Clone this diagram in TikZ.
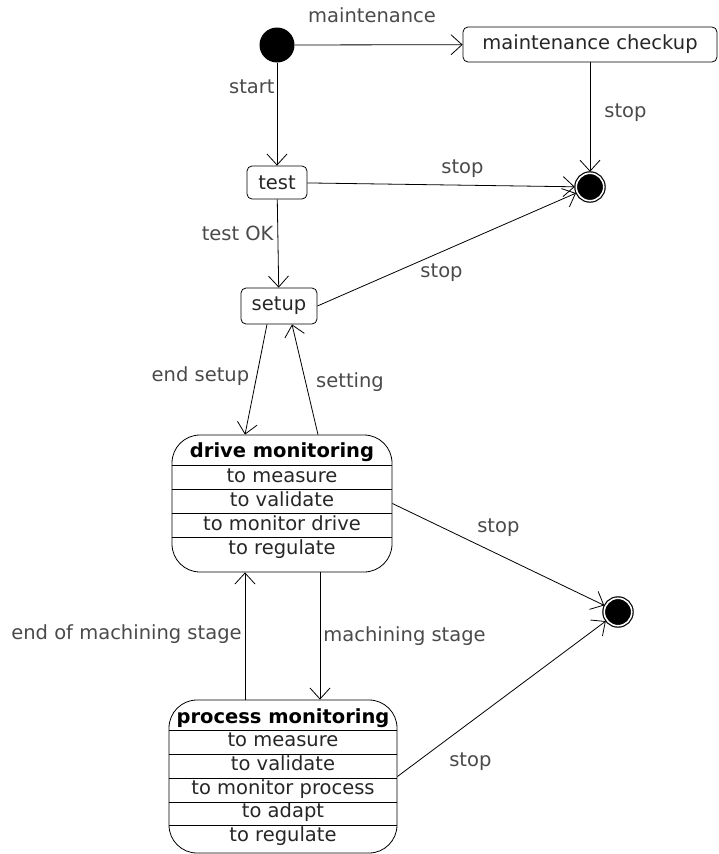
\documentclass[tikz,border=0pt]{standalone}
\usepackage{fontspec}
\setmainfont{DejaVu Sans}
\usetikzlibrary{arrows.meta}
\definecolor{labelgray}{HTML}{4A4A4A}
\definecolor{textgray}{HTML}{262626}
\newcommand{\umlfont}{\fontsize{19.5}{22}\selectfont}

\tikzset{
  state/.style={draw, rounded corners=5pt, inner sep=0pt, text=textgray, font=\umlfont},
  compstate/.style={draw, rounded corners=28pt, inner sep=0pt},
  title/.style={anchor=base, inner sep=0pt, font=\umlfont\bfseries},
  row/.style={anchor=base, inner sep=0pt, text=textgray, font=\umlfont},
  initial/.style={circle, fill=black, inner sep=0pt, minimum size=35pt},
  final/.style={circle, draw, line width=1.2pt, double=white, double distance=1.6pt,
    fill=black, inner sep=0pt, minimum size=27.5pt, outer sep=1.5pt},
  lbl/.style={inner sep=0pt, text=labelgray, font=\umlfont}
}

\begin{document}
\begin{tikzpicture}[x=1pt, y=-1pt, line width=0.8pt,
    >={Straight Barb[length=11pt, width=20pt]}]
\useasboundingbox (0,0) rectangle (718,854);

\node[initial] (init) at (277,45) {};
\node[state, minimum width=254pt, minimum height=35pt] (maint) at (590,44.5) {maintenance checkup};
\node[state, minimum width=60pt, minimum height=33pt] (test) at (277,182.5) {test};
\node[state, minimum width=76pt, minimum height=36pt] (setup) at (279,306) {setup};
\node[final] (end1) at (590,187) {};
\node[final] (end2) at (618,612) {};

% drive monitoring
\node[compstate, minimum width=220pt, minimum height=137pt] (drive) at (282,503.5) {};
\node[title] (driveTitle) at (282,457) {drive monitoring};
\node[row] (driveMeasure) at (282,482) {to measure};
\node[row] (driveValidate) at (282,506) {to validate};
\node[row] (driveMonitor) at (282,530) {to monitor drive};
\node[row] (driveRegulate) at (282,554) {to regulate};
\draw (172,465) -- (392,465);
\draw (172,489) -- (392,489);
\draw (172,513) -- (392,513);
\draw (172,537) -- (392,537);

% process monitoring
\node[compstate, minimum width=228pt, minimum height=153pt] (process) at (283,776.5) {};
\node[title] (procTitle) at (283,723) {process monitoring};
\node[row] (procMeasure) at (283,746.5) {to measure};
\node[row] (procValidate) at (283,770) {to validate};
\node[row] (procMonitor) at (283,794) {to monitor process};
\node[row] (procAdapt) at (283,817.5) {to adapt};
\node[row] (procRegulate) at (283,841) {to regulate};
\draw (169,730) -- (397,730);
\draw (169,754) -- (397,754);
\draw (169,778) -- (397,778);
\draw (169,802) -- (397,802);
\draw (169,825) -- (397,825);

\draw[->] (init) -- node[lbl, pos=0.46, anchor=base, yshift=22pt] {maintenance} (maint);
\draw[->] (init) -- node[lbl, pos=0.3, anchor=base east, xshift=-2pt] {start} (test);
\draw[->] (maint) -- node[lbl, pos=0.5, anchor=base west, xshift=14pt] {stop} (end1);
\draw[->] (test) -- node[lbl, pos=0.58, anchor=base, yshift=12pt] {stop} (end1);
\draw[->] (test) -- node[lbl, pos=0.47, anchor=base east, xshift=-4pt] {test OK} (setup);
\draw[->] (setup.east) -- node[lbl, pos=0.48, anchor=base, yshift=-26pt] {stop} (end1);
\draw[->] ([xshift=-12pt]setup.south) -- node[lbl, pos=0.52, anchor=base east, xshift=-6pt] {end setup} ([xshift=-37pt]drive.north);
\draw[->] ([xshift=36pt]drive.north) -- node[lbl, pos=0.43, anchor=base west, xshift=9pt] {setting} ([xshift=13pt]setup.south);
\draw[->] (drive.east) -- node[lbl, pos=0.5, anchor=base, yshift=22pt] {stop} (end2);
\draw[->] ([xshift=-38pt]process.north) -- node[lbl, pos=0.47, anchor=base east, xshift=-3pt] {end of machining stage} ([xshift=-37pt]drive.south);
\draw[->] ([xshift=38pt]drive.south) -- node[lbl, pos=0.54, anchor=base west, xshift=3pt] {machining stage} ([xshift=37pt]process.north);
\draw[->] (process.east) -- node[lbl, pos=0.35, anchor=base, yshift=-44pt] {stop} (end2);
\end{tikzpicture}
\end{document}
